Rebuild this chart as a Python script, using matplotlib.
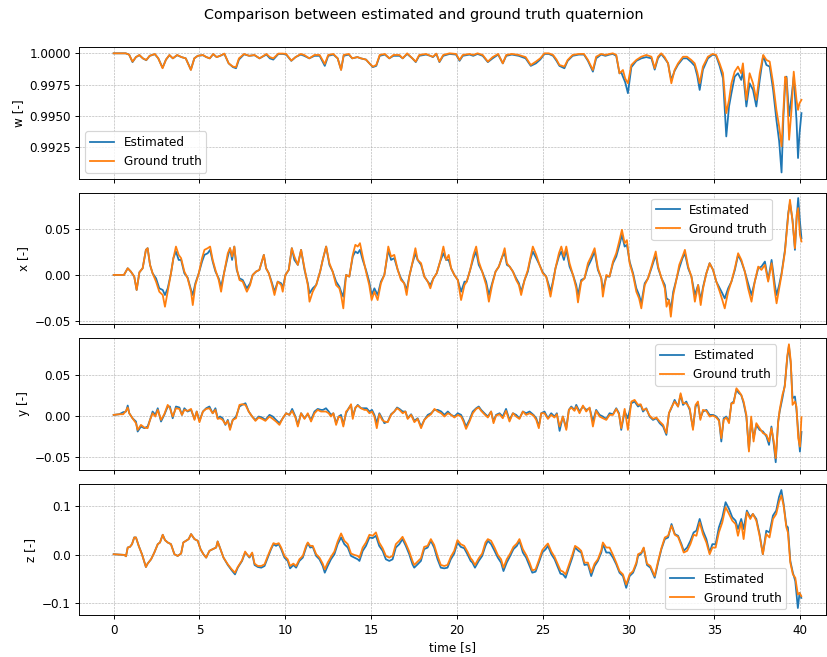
import numpy as np
import matplotlib
matplotlib.use("Agg")
import matplotlib.pyplot as plt
from matplotlib.ticker import FormatStrFormatter

# ---- w component ----
w_t = [0, 0.7, 0.9, 1.1, 1.3, 1.5, 1.7, 1.9, 2.1, 2.4, 2.6, 2.85, 3.05, 3.25, 3.45, 3.7, 3.95, 4.2, 4.5, 4.7,
       4.9, 5.2, 5.4, 5.6, 5.8, 6.0, 6.2, 6.45, 6.7, 6.95, 7.13, 7.3, 7.6, 7.9, 8.2, 8.5, 8.9, 9.1, 9.3, 9.6,
       9.85, 10.05, 10.35, 10.6, 10.9, 11.1, 11.4, 11.7, 12.0, 12.3, 12.5, 12.8, 13.05, 13.25, 13.4, 13.7, 13.9, 14.2, 14.4, 14.7,
       14.9, 15.1, 15.3, 15.5, 15.8, 16.06, 16.3, 16.65, 16.84, 17.1, 17.4, 17.6, 17.8, 18.2, 18.45, 18.6, 18.8, 18.98, 19.2, 19.57,
       19.95, 20.15, 20.34, 20.73, 20.95, 21.2, 21.5, 21.8, 22.08, 22.4, 22.67, 22.87, 23.2, 23.6, 24.0, 24.3, 24.6, 24.85, 25.1, 25.35,
       25.6, 25.8, 25.97, 26.26, 26.45, 26.74, 27.1, 27.4, 27.63, 27.92, 28.11, 28.4, 28.65, 28.89, 29.08, 29.28, 29.47, 29.57, 29.67, 29.8,
       29.96, 30.16, 30.45, 30.74, 31.03, 31.33, 31.52, 31.71, 31.9, 32.1, 32.3, 32.39, 32.49, 32.68, 32.88, 33.17, 33.4, 33.65, 33.85, 34.0,
       34.14, 34.33, 34.62, 34.9, 35.1, 35.3, 35.5, 35.69, 35.85, 35.99, 36.18, 36.37, 36.56, 36.66, 36.86, 37.05, 37.25, 37.44, 37.64, 37.84,
       38.03, 38.22, 38.42, 38.61, 38.77, 38.91, 39.02, 39.12, 39.2, 39.35, 39.49, 39.62, 39.78, 39.87, 39.95, 40.07]
w_gt = [1.0, 1.0, 0.9999, 0.99934, 0.9997, 0.99987, 0.9996, 0.99947, 0.9998, 0.99995, 0.9996, 0.99881, 0.9995, 0.99987, 0.9996, 0.99987, 0.9997, 0.9996, 0.99867, 0.9996,
        0.9998, 0.99987, 0.9997, 0.9996, 0.99995, 0.9997, 0.9998, 0.99998, 0.9992, 0.99894, 0.9989, 0.9996, 0.99995, 0.9998, 0.99987, 0.9996, 0.99995, 0.9997, 0.9996, 0.99998,
        0.99998, 0.99995, 0.99942, 0.9997, 0.99995, 0.99987, 0.9996, 0.99987, 0.99987, 0.99915, 0.99987, 0.99995, 0.9996, 0.99867, 0.99987, 0.99995, 0.9996, 0.9997, 0.9996, 0.9995,
        0.9992, 0.99894, 0.99907, 0.99987, 0.99995, 0.9996, 0.99987, 0.99987, 0.9996, 1.0, 0.9996, 0.99934, 0.99987, 0.99995, 0.9998, 0.99973, 0.99998, 0.99934, 0.99987, 1.0,
        0.99995, 0.99947, 0.99987, 0.99995, 0.99987, 1.0, 0.99987, 0.99934, 0.9997, 0.99995, 0.9992, 0.99987, 0.99995, 0.99987, 0.9997, 0.99907, 0.99934, 0.9996, 1.0, 1.0,
        0.99987, 0.9995, 0.99907, 0.99894, 0.99947, 0.99987, 0.99995, 0.99995, 0.99947, 0.99867, 0.99973, 0.99995, 0.99987, 0.99995, 1.0, 0.99987, 0.99841, 0.99854, 0.99867, 0.9980,
        0.99761, 0.99907, 0.99947, 0.99973, 0.99987, 0.99973, 0.99881, 0.99973, 1.0, 0.9997, 0.9992, 0.99841, 0.99761, 0.99867, 0.9992, 0.99973, 0.99973, 0.99947, 0.9992, 0.9985,
        0.99761, 0.99894, 0.99973, 0.99995, 0.99987, 0.9992, 0.99841, 0.99523, 0.99629, 0.99761, 0.99854, 0.99894, 0.99841, 0.9992, 0.99629, 0.99841, 0.9976, 0.99629, 0.99841, 0.99987,
        0.99947, 0.99934, 0.99761, 0.99549, 0.99417, 0.99258, 0.9955, 0.99814, 0.9980, 0.99311, 0.99549, 0.99854, 0.99629, 0.99549, 0.9960, 0.99629]
w_est = [1.0, 1.0, 0.9999, 0.9993, 0.9997, 0.99985, 0.9996, 0.99945, 0.9998, 0.99993, 0.9996, 0.99885, 0.9995, 0.99985, 0.9996, 0.99985, 0.9997, 0.9996, 0.9987, 0.9996,
         0.9998, 0.99985, 0.9997, 0.9996, 0.99993, 0.9997, 0.9998, 0.99995, 0.9992, 0.9989, 0.99881, 0.9995, 0.99992, 0.9998, 0.99985, 0.9996, 0.9999, 0.9996, 0.9995, 0.99995,
         0.99995, 0.9999, 0.9994, 0.9997, 0.9999, 0.9998, 0.9996, 0.9998, 0.9998, 0.9990, 0.9998, 0.9999, 0.9996, 0.9987, 0.9998, 0.9999, 0.9996, 0.9997, 0.9996, 0.9995,
         0.9992, 0.9989, 0.9990, 0.9998, 0.9999, 0.9996, 0.9998, 0.9998, 0.9996, 0.99995, 0.9996, 0.9993, 0.9998, 0.9999, 0.9998, 0.9997, 0.99995, 0.9993, 0.9998, 0.99995,
         0.9999, 0.9994, 0.9998, 0.9999, 0.9998, 0.99995, 0.9998, 0.9993, 0.9996, 0.9999, 0.9992, 0.9998, 0.9999, 0.9998, 0.9996, 0.9990, 0.9992, 0.9995, 0.99995, 0.99995,
         0.9998, 0.9994, 0.9990, 0.99881, 0.9994, 0.9998, 0.9999, 0.9999, 0.9994, 0.99854, 0.9996, 0.9999, 0.9998, 0.9999, 0.99995, 0.9998, 0.9984, 0.9985, 0.99814, 0.9977,
         0.99682, 0.9989, 0.9994, 0.9996, 0.9997, 0.9996, 0.9987, 0.9996, 0.99995, 0.9996, 0.9992, 0.9985, 0.99788, 0.9986, 0.9991, 0.9996, 0.9996, 0.9993, 0.9990, 0.9982,
         0.99708, 0.9987, 0.9996, 0.9999, 0.9998, 0.9990, 0.9980, 0.99337, 0.99576, 0.99682, 0.99814, 0.99841, 0.99788, 0.9986, 0.99576, 0.99761, 0.99708, 0.99576, 0.99788, 0.9998,
         0.99907, 0.99894, 0.99708, 0.9947, 0.9930, 0.9905, 0.9950, 0.9975, 0.99814, 0.9950, 0.9965, 0.99814, 0.9947, 0.99165, 0.9935, 0.99523]

# ---- x component ----
x_t = [0, 0.6, 0.82, 1.0, 1.2, 1.34, 1.5, 1.69, 1.88, 1.98, 2.12, 2.27, 2.47, 2.66, 2.86, 2.99, 3.15, 3.34, 3.48, 3.63,
       3.79, 3.93, 4.12, 4.31, 4.51, 4.61, 4.76, 4.96, 5.15, 5.29, 5.48, 5.62, 5.77, 5.93, 6.12, 6.26, 6.45, 6.65, 6.78, 6.9,
       7.03, 7.17, 7.33, 7.52, 7.76, 7.95, 8.1, 8.3, 8.49, 8.75, 8.88, 9.04, 9.23, 9.37, 9.56, 9.76, 9.85, 10.01, 10.2, 10.38,
       10.53, 10.73, 10.92, 11.12, 11.31, 11.41, 11.6, 11.8, 12.03, 12.18, 12.38, 12.57, 12.76, 12.96, 13.15, 13.25, 13.38, 13.54, 13.73, 13.93,
       14.08, 14.22, 14.35, 14.51, 14.7, 14.89, 15.03, 15.19, 15.38, 15.57, 15.77, 15.86, 16.0, 16.16, 16.35, 16.55, 16.74, 16.93, 17.07, 17.22,
       17.38, 17.58, 17.71, 17.91, 18.1, 18.3, 18.45, 18.63, 18.82, 19.02, 19.21, 19.37, 19.52, 19.66, 19.85, 20.05, 20.24, 20.44, 20.57, 20.77,
       20.96, 21.12, 21.27, 21.47, 21.7, 21.86, 22.05, 22.25, 22.44, 22.64, 22.78, 22.91, 23.07, 23.26, 23.45, 23.61, 23.74, 23.94, 24.13, 24.27,
       24.42, 24.62, 24.81, 25.0, 25.2, 25.35, 25.45, 25.59, 25.74, 25.94, 26.08, 26.23, 26.37, 26.56, 26.76, 26.95, 27.05, 27.24, 27.43, 27.63,
       27.82, 28.02, 28.21, 28.41, 28.5, 28.7, 28.89, 29.09, 29.28, 29.47, 29.61, 29.77, 29.9, 30.06, 30.26, 30.45, 30.61, 30.74, 30.94, 31.13,
       31.33, 31.58, 31.72, 31.92, 32.11, 32.21, 32.35, 32.46, 32.6, 32.8, 32.95, 33.14, 33.28, 33.47, 33.66, 33.86, 34.05, 34.2, 34.34, 34.53,
       34.72, 34.92, 35.11, 35.31, 35.46, 35.6, 35.8, 35.99, 36.19, 36.38, 36.57, 36.77, 36.96, 37.16, 37.35, 37.55, 37.74, 37.94, 38.13, 38.33,
       38.52, 38.62, 38.77, 38.91, 39.11, 39.3, 39.4, 39.55, 39.69, 39.79, 39.88, 39.98, 40.07]
x_gt = [0, 0, 0.0073, 0.0037, -0.0018, -0.0164, 0.0029, 0.0073, 0.0274, 0.0292, 0.011, 0.0018, -0.0073, -0.0183, -0.0219, -0.0347, -0.0183, 0.0018, 0.0183, 0.031,
        0.0219, 0.0183, 0.0037, -0.0037, -0.0183, -0.0329, -0.011, 0.0018, 0.0183, 0.0274, 0.0292, 0.031, 0.0164, 0.0055, -0.0055, -0.0183, 0.0037, 0.0237, 0.0292, 0.0201,
        0.031, 0.0073, -0.0055, -0.0073, -0.0183, -0.011, 0, 0.0037, 0.0055, 0.0219, 0.0073, 0.0018, -0.011, -0.0219, -0.0073, -0.011, -0.0183, 0, 0.0055, 0.0292,
        0.0201, 0.011, 0.0274, 0.0073, -0.011, -0.0292, -0.0183, -0.011, 0.0037, 0.0164, 0.031, 0.0128, 0.0037, -0.011, -0.0146, -0.0219, -0.0365, 0, -0.0018, 0.0219,
        0.0329, 0.031, 0.0347, 0.0201, 0.0037, -0.011, -0.0274, -0.0183, -0.0274, -0.0091, 0, 0.011, 0.031, 0.0201, 0.0219, 0.0055, -0.0055, -0.0091, -0.0219, -0.0018,
        0.011, 0.0292, 0.0164, 0.0128, -0.0018, -0.0073, -0.0146, -0.0037, 0.0018, 0.0146, 0.031, 0.0164, 0.0219, 0.0073, 0, -0.0055, -0.0274, -0.011, -0.0073, 0.0055,
        0.0219, 0.031, 0.0146, 0.0037, -0.011, -0.0292, -0.011, 0.0037, 0.0091, 0.0201, 0.0292, 0.0128, 0.0091, 0.0037, -0.0055, -0.011, -0.0219, -0.0055, 0.0055, 0.0183,
        0.031, 0.0219, 0.011, 0.0018, -0.0018, -0.0146, -0.0237, -0.0091, 0.0073, 0.0237, 0.031, 0.0201, 0.031, 0.0128, 0, -0.0146, -0.030, -0.0073, -0.0037, 0.0128,
        0.0201, 0.0292, 0.0073, -0.0037, -0.0237, 0, -0.0018, 0.0146, 0.0237, 0.038, 0.0493, 0.0347, 0.038, 0.0128, 0, -0.0183, -0.0256, -0.0365, -0.011, -0.0037,
        0.0091, 0.0256, 0.0091, -0.0037, -0.0146, -0.0347, -0.0274, -0.0456, -0.0219, -0.0037, 0.011, 0.0201, 0.0274, 0.0091, -0.0018, -0.0292, -0.011, -0.0329, -0.0146, 0.0018,
        0.0128, 0.0055, -0.0073, -0.0183, -0.0274, -0.0365, -0.0183, -0.0073, 0.0073, 0.0237, 0.0164, 0.0037, -0.0146, -0.0292, -0.0073, 0.0091, 0.0055, 0.011, -0.0073, 0.0128,
        -0.0183, -0.031, -0.0146, 0, 0.0256, 0.0657, 0.0821, 0.0584, 0.0292, 0.0657, 0.073, 0.0438, 0.0365]
x_est = [0, 0, 0.0073, 0.0037, -0.0018, -0.0164, 0.0029, 0.0073, 0.0274, 0.0292, 0.011, 0.0018, -0.0037, -0.0146, -0.0164, -0.0219, -0.0146, 0.0018, 0.0183, 0.0256,
         0.0164, 0.0164, 0.0018, -0.0029, -0.0164, -0.0219, -0.0091, 0.0018, 0.0146, 0.0219, 0.0237, 0.0274, 0.0146, 0.0037, -0.0037, -0.0128, 0.0037, 0.0201, 0.0292, 0.0164,
         0.031, 0.0055, -0.0037, -0.0055, -0.0146, -0.0091, 0, 0.0037, 0.0055, 0.0219, 0.0073, 0.0018, -0.0091, -0.0183, -0.0073, -0.0091, -0.0146, 0, 0.0055, 0.0292,
         0.0164, 0.011, 0.0274, 0.0055, -0.0091, -0.0201, -0.0146, -0.011, 0.0037, 0.0164, 0.031, 0.011, 0.0037, -0.0073, -0.0128, -0.0183, -0.0237, 0, -0.0018, 0.0201,
         0.0256, 0.0237, 0.0274, 0.0164, 0.0055, -0.0073, -0.0219, -0.0146, -0.0219, -0.0073, 0, 0.011, 0.0274, 0.0164, 0.0183, 0.0055, -0.0037, -0.0091, -0.0164, -0.0018,
         0.011, 0.0237, 0.0164, 0.011, -0.0018, -0.0073, -0.011, -0.0037, 0.0018, 0.0146, 0.0237, 0.0164, 0.0164, 0.0073, 0, -0.0055, -0.0183, -0.0073, -0.0073, 0.0055,
         0.0183, 0.0256, 0.011, 0.0037, -0.0073, -0.0219, -0.0091, 0.0037, 0.0091, 0.0201, 0.0237, 0.011, 0.0091, 0.0037, -0.0037, -0.0091, -0.0183, -0.0055, 0.0037, 0.0164,
         0.0256, 0.0183, 0.011, 0.0029, -0.0018, -0.011, -0.0183, -0.0073, 0.0073, 0.0201, 0.0256, 0.0164, 0.0274, 0.0091, 0, -0.011, -0.022, -0.0055, -0.0037, 0.0091,
         0.0164, 0.0256, 0.0055, -0.0037, -0.0164, -0.0018, -0.0018, 0.0128, 0.0201, 0.0329, 0.0438, 0.031, 0.0329, 0.0146, 0.0018, -0.0146, -0.0219, -0.031, -0.0091, -0.0037,
         0.0073, 0.0219, 0.0073, -0.0037, -0.011, -0.0256, -0.0274, -0.0383, -0.0183, -0.0037, 0.0073, 0.0183, 0.0237, 0.0073, -0.0018, -0.0219, -0.011, -0.0274, -0.0128, 0.0018,
         0.0128, 0.0055, -0.0073, -0.0146, -0.0201, -0.0256, -0.0146, -0.0073, 0.0055, 0.0219, 0.0146, 0.0037, -0.0091, -0.0219, -0.0073, 0.0073, 0.0091, 0.0146, -0.0055, 0.0164,
         -0.011, -0.0219, -0.011, 0.0018, 0.0274, 0.0675, 0.0785, 0.0602, 0.0274, 0.062, 0.084, 0.0584, 0.040]

# ---- y component ----
y_t = [0, 0.33, 0.56, 0.72, 0.82, 0.91, 1.1, 1.3, 1.4, 1.59, 1.79, 1.98, 2.12, 2.27, 2.43, 2.57, 2.76, 2.95, 3.15, 3.28,
       3.44, 3.63, 3.83, 3.98, 4.12, 4.31, 4.51, 4.71, 4.84, 5.0, 5.2, 5.39, 5.58, 5.77, 5.93, 6.06, 6.2, 6.35, 6.51, 6.65,
       6.78, 6.94, 7.13, 7.33, 7.48, 7.68, 7.87, 8.07, 8.26, 8.45, 8.65, 8.84, 9.08, 9.27, 9.46, 9.66, 9.85, 10.05, 10.24, 10.4,
       10.59, 10.73, 10.92, 11.12, 11.31, 11.5, 11.7, 11.89, 12.08, 12.2, 12.37, 12.53, 12.66, 12.8, 12.96, 13.11, 13.25, 13.38, 13.54, 13.69,
       13.83, 13.93, 14.08, 14.22, 14.41, 14.61, 14.74, 14.9, 15.05, 15.19, 15.33, 15.48, 15.64, 15.77, 15.97, 16.16, 16.35, 16.51, 16.65, 16.84,
       17.0, 17.13, 17.33, 17.52, 17.71, 17.91, 18.1, 18.3, 18.49, 18.69, 18.88, 19.08, 19.27, 19.47, 19.66, 19.85, 20.05, 20.24, 20.38, 20.53,
       20.73, 20.92, 21.12, 21.27, 21.41, 21.6, 21.8, 21.99, 22.13, 22.28, 22.48, 22.67, 22.86, 23.06, 23.26, 23.45, 23.64, 23.84, 24.03, 24.23,
       24.46, 24.62, 24.77, 24.91, 25.1, 25.3, 25.49, 25.68, 25.82, 25.98, 26.17, 26.37, 26.52, 26.66, 26.85, 26.95, 27.14, 27.34, 27.53, 27.73,
       27.92, 28.11, 28.31, 28.5, 28.7, 28.89, 29.09, 29.28, 29.44, 29.57, 29.77, 29.96, 30.16, 30.35, 30.55, 30.7, 30.84, 31.03, 31.22, 31.42,
       31.62, 31.81, 32.01, 32.2, 32.35, 32.49, 32.68, 32.88, 33.03, 33.17, 33.36, 33.56, 33.75, 33.9, 34.04, 34.18, 34.33, 34.53, 34.72, 34.92,
       35.11, 35.27, 35.4, 35.54, 35.69, 35.85, 35.99, 36.12, 36.28, 36.43, 36.56, 36.7, 36.86, 37.01, 37.14, 37.28, 37.44, 37.63, 37.83, 38.03,
       38.18, 38.32, 38.46, 38.57, 38.71, 38.8, 38.96, 39.1, 39.24, 39.34, 39.45, 39.55, 39.69, 39.78, 39.88, 39.98, 40.07]
y_gt = [0.0008, 0.0016, 0.0016, 0.0057, 0.0098, 0.0028, -0.0033, -0.0093, -0.0175, -0.0114, -0.0146, -0.0154, -0.0053, 0.0028, -0.0012, 0.0069, -0.0053, 0.0016, 0.013, 0.0089,
        -0.0012, 0.0089, 0.0081, 0.0008, 0.0069, 0.0057, 0.0081, -0.0053, 0.0049, -0.0081, 0.0049, 0.0081, 0.0089, 0.0028, 0.0069, -0.0041, -0.0033, -0.0053, -0.0106, -0.0065,
        -0.0175, -0.0053, -0.0033, 0.013, 0.0138, 0.013, 0.0049, -0.0012, -0.0065, -0.0024, -0.0041, -0.0065, -0.0012, -0.0041, -0.0073, -0.0114, -0.0033, 0.0028, 0.0008, 0.0057,
        -0.0024, -0.0134, 0.0028, -0.0041, 0.0028, -0.0073, 0.0028, 0.0069, 0.0049, 0.0049, 0.0049, 0.0028, -0.0012, 0.0028, -0.0114, -0.0012, -0.0024, -0.0134, 0.0049, 0.0081,
        0.0138, -0.0041, 0.0098, 0.0122, 0.0089, 0.0069, 0.0069, 0.0028, 0.0049, -0.0012, -0.0154, 0.0016, -0.0053, -0.0073, -0.0081, 0.0008, 0.0049, 0.0089, 0.0069, 0.0028,
        0.0049, -0.0041, 0.0008, -0.0081, -0.0041, -0.0154, -0.0053, -0.0012, 0.0016, 0.0081, 0.0049, 0.0028, -0.0012, 0.0028, 0.0008, -0.0024, 0.0008, -0.0012, -0.0073, -0.0163,
        -0.0073, 0.0028, 0.0081, 0.0098, 0.0057, 0.0016, -0.0024, 0.0049, -0.0093, 0.0, 0.0016, -0.0033, 0.0057, -0.0073, 0.0028, -0.0012, -0.0041, 0.0049, 0.0008, 0.0028,
        0.0, -0.0053, -0.0154, 0.0028, 0.0028, -0.0041, 0.0008, -0.0024, 0.0016, -0.0134, -0.0012, -0.0175, 0.0069, 0.0098, 0.0057, 0.011, 0.0028, 0.0122, 0.0049, 0.0098,
        -0.0134, 0.0057, -0.0012, -0.0033, -0.0053, 0.0008, 0.0008, 0.0081, 0.0016, -0.0154, 0.0081, -0.0175, 0.0171, 0.0191, 0.013, 0.0138, 0.0069, 0.0081, 0.0, -0.0041,
        -0.0024, -0.0073, -0.0114, -0.0215, 0.0028, 0.0098, 0.0171, 0.011, 0.0272, 0.015, 0.015, 0.0089, -0.0175, 0.013, 0.0171, -0.0053, 0.0069, 0.0057, -0.0012, 0.0,
        -0.0024, -0.0065, -0.0276, -0.0053, -0.0024, -0.0093, 0.015, 0.015, 0.0333, 0.0293, 0.0252, 0.0171, 0.0008, -0.0439, -0.0012, -0.0317, -0.0093, -0.0154, -0.0215, -0.0236,
        -0.0317, -0.0154, -0.0317, -0.052, -0.0093, 0.0069, 0.0252, 0.0354, 0.072, 0.087, 0.0659, 0.013, 0.0171, 0.011, -0.0276, -0.038, -0.002]
y_est = [0.0008, 0.0016, 0.0041, 0.0049, 0.0122, 0.0028, -0.0033, -0.0073, -0.0195, -0.0134, -0.0154, -0.0134, -0.0053, 0.0049, 0.0008, 0.0089, -0.0073, 0.0008, 0.011, 0.011,
         -0.0033, 0.011, 0.0098, 0.0008, 0.0089, 0.0049, 0.0069, -0.0041, 0.0049, -0.0065, 0.0049, 0.0089, 0.011, 0.0028, 0.0089, -0.0033, -0.0012, -0.0033, -0.0114, -0.0053,
         -0.0154, -0.0053, -0.0012, 0.011, 0.013, 0.015, 0.0049, -0.0012, -0.0053, -0.0012, -0.0024, -0.0053, 0.0008, -0.0012, -0.0053, -0.0093, -0.0033, 0.0028, 0.0008, 0.0081,
         -0.0012, -0.0114, 0.0028, -0.0033, 0.0016, -0.0053, 0.0049, 0.0081, 0.0069, 0.0069, 0.0089, 0.0049, 0.0008, 0.0028, -0.0093, -0.0012, 0.0008, -0.0114, 0.0028, 0.0089,
         0.013, -0.0012, 0.0089, 0.013, 0.0089, 0.0089, 0.0089, 0.0049, 0.0069, 0.0008, -0.0093, 0.0028, -0.0033, -0.0093, -0.0073, 0.0016, 0.0049, 0.0098, 0.0081, 0.0049,
         0.0049, -0.0033, 0.0016, -0.0065, -0.0033, -0.0134, -0.0053, 0.0008, 0.0028, 0.0069, 0.0069, 0.0049, 0.0008, 0.0049, 0.0008, -0.0012, 0.0028, 0.0008, -0.0053, -0.0134,
         -0.0053, 0.0049, 0.0089, 0.011, 0.0069, 0.0028, -0.0012, 0.0049, -0.0073, 0.0008, 0.0028, -0.0012, 0.0081, -0.0053, 0.0028, 0.0008, -0.0033, 0.0049, 0.0028, 0.0049,
         0.0008, -0.0033, -0.0134, 0.0028, 0.0049, -0.0033, 0.0028, -0.0012, 0.0028, -0.0187, -0.0012, -0.0154, 0.0069, 0.011, 0.0069, 0.013, 0.0049, 0.011, 0.0069, 0.0089,
         -0.0073, 0.0069, 0.0008, -0.0012, -0.0041, 0.0028, 0.0016, 0.0089, 0.0028, -0.0175, 0.0049, -0.0033, 0.015, 0.0171, 0.011, 0.013, 0.0049, 0.0089, -0.0012, -0.0053,
         -0.0033, -0.0093, -0.0134, -0.0236, 0.0028, 0.0089, 0.0191, 0.011, 0.0252, 0.013, 0.0171, 0.0069, -0.0154, 0.011, 0.015, -0.0033, 0.0049, 0.0069, 0.0008, 0.0008,
         -0.0012, -0.0053, -0.0317, -0.0033, -0.0012, -0.0073, 0.015, 0.0171, 0.0313, 0.0272, 0.0252, 0.015, -0.0012, -0.0419, -0.0053, -0.0276, -0.0114, -0.0175, -0.0195, -0.0256,
         -0.0358, -0.0134, -0.0358, -0.057, -0.0073, 0.0049, 0.0211, 0.0374, 0.0699, 0.085, 0.0618, 0.0211, 0.0232, 0.0069, -0.0195, -0.044, -0.02]

# ---- z component ----
z_t = [0, 0.62, 0.72, 0.82, 0.95, 1.07, 1.2, 1.3, 1.46, 1.65, 1.88, 1.98, 2.18, 2.37, 2.57, 2.7, 2.86, 2.99, 3.15, 3.34,
       3.54, 3.73, 3.93, 4.06, 4.22, 4.37, 4.51, 4.71, 4.9, 5.06, 5.23, 5.39, 5.58, 5.77, 5.97, 6.06, 6.22, 6.4, 6.65, 6.88,
       7.07, 7.23, 7.48, 7.66, 7.76, 7.91, 8.07, 8.21, 8.4, 8.6, 8.79, 8.98, 9.17, 9.31, 9.46, 9.62, 9.76, 9.95, 10.14, 10.28,
       10.47, 10.63, 10.82, 11.02, 11.21, 11.31, 11.45, 11.6, 11.8, 11.99, 12.18, 12.3, 12.47, 12.66, 12.86, 13.05, 13.25, 13.44, 13.64, 13.83,
       14.02, 14.22, 14.32, 14.51, 14.7, 14.9, 15.09, 15.28, 15.47, 15.67, 15.86, 16.06, 16.25, 16.44, 16.64, 16.83, 17.02, 17.22, 17.41, 17.51,
       17.71, 17.9, 18.09, 18.29, 18.48, 18.67, 18.87, 19.06, 19.26, 19.45, 19.64, 19.84, 20.03, 20.22, 20.42, 20.61, 20.8, 20.9, 21.05, 21.27,
       21.47, 21.66, 21.8, 21.99, 22.19, 22.38, 22.57, 22.71, 22.9, 23.1, 23.29, 23.49, 23.64, 23.84, 24.03, 24.23, 24.39, 24.58, 24.77, 24.97,
       25.17, 25.3, 25.5, 25.69, 25.89, 26.03, 26.18, 26.33, 26.52, 26.72, 26.88, 27.08, 27.24, 27.43, 27.63, 27.82, 28.02, 28.21, 28.41, 28.5,
       28.7, 28.89, 29.09, 29.28, 29.47, 29.67, 29.86, 30.06, 30.26, 30.45, 30.55, 30.74, 30.88, 31.07, 31.27, 31.52, 31.72, 31.91, 32.11, 32.3,
       32.5, 32.69, 32.88, 33.08, 33.21, 33.41, 33.6, 33.79, 33.95, 34.14, 34.33, 34.53, 34.72, 34.88, 35.07, 35.26, 35.46, 35.65, 35.85, 36.04,
       36.23, 36.37, 36.56, 36.7, 36.89, 37.09, 37.24, 37.44, 37.63, 37.82, 38.02, 38.21, 38.41, 38.6, 38.76, 38.9, 39.03, 39.19, 39.28, 39.42,
       39.57, 39.71, 39.86, 39.96, 40.06]
z_gt = [0.0007, -0.0007, -0.0035, 0.0146, 0.016, 0.0216, 0.0355, 0.0355, 0.0181, 0.0007, -0.0258, -0.0188, -0.0098, 0.0042, 0.0216, 0.0251, 0.0411, 0.03, 0.0251, 0.0216,
        0.0007, -0.0028, 0.0021, 0.0251, 0.0286, 0.0321, 0.0425, 0.0321, 0.0286, 0.0112, 0.0007, -0.0063, 0.0077, 0.0112, 0.0146, 0.0272, 0.0112, -0.0063, -0.0202, -0.0307,
        -0.0376, -0.0258, -0.0118, 0.0063, 0.0007, -0.0049, 0.0042, -0.0188, -0.0237, -0.0237, -0.0202, -0.0028, 0.0132, 0.0237, 0.0216, 0.0237, 0.0146, -0.0028, -0.0098, -0.0237,
        -0.0188, -0.0237, -0.0098, -0.0028, 0.0181, 0.0251, 0.0181, 0.0181, 0.0007, -0.0063, -0.0188, -0.0307, -0.0167, -0.0049, 0.0063, 0.0272, 0.0439, 0.0286, 0.0216, 0.0021,
        -0.0007, -0.0028, -0.0063, 0.0146, 0.0251, 0.0411, 0.039, 0.046, 0.0251, 0.0132, -0.0028, -0.0063, -0.0028, 0.0216, 0.0286, 0.0369, 0.023, 0.0063, -0.0132, -0.0216,
        -0.0146, -0.0077, 0.016, 0.0181, 0.0321, 0.0202, -0.0028, -0.0216, -0.0237, -0.0216, -0.0049, 0.0077, 0.03, 0.0216, 0.0181, 0.0063, -0.0077, -0.0118, -0.0216, -0.0077,
        0.0021, 0.0251, 0.0321, 0.0286, 0.0146, -0.0007, -0.0098, -0.0272, -0.0098, 0.0021, 0.016, 0.023, 0.0321, 0.0112, -0.0007, -0.0167, -0.0328, -0.0307, -0.0118, 0.0091,
        0.0181, 0.023, 0.0063, -0.0049, -0.0216, -0.0328, -0.0355, -0.0411, -0.0216, -0.0007, 0.0181, 0.0132, 0.0077, -0.0167, -0.0167, -0.0376, -0.0188, -0.0098, 0.0091, 0.0251,
        0.0146, 0.0146, -0.0007, -0.0167, -0.0342, -0.0411, -0.062, -0.0411, -0.0342, -0.0167, 0.0007, 0.0042, 0.0146, -0.0188, -0.0237, -0.0446, -0.0132, 0.0132, 0.0355, 0.039,
        0.0599, 0.0411, 0.0369, 0.0181, 0.0042, 0.0077, 0.0216, 0.0411, 0.039, 0.0669, 0.0425, 0.0251, 0.0007, 0.0146, 0.0146, 0.046, 0.0669, 0.0983, 0.0843, 0.0704,
        0.0634, 0.039, 0.0669, 0.0321, 0.0878, 0.0739, 0.0843, 0.0704, 0.039, 0.0007, 0.0425, 0.0355, 0.0739, 0.0843, 0.1087, 0.1227, 0.1018, 0.0565, 0.046, -0.0167,
        -0.0411, -0.0481, -0.0829, -0.0795, -0.0864]
z_est = [0.0007, -0.0007, -0.0035, 0.0146, 0.016, 0.0216, 0.0355, 0.0355, 0.0181, 0.0007, -0.0258, -0.0188, -0.0098, 0.0042, 0.0216, 0.0251, 0.0411, 0.03, 0.0251, 0.0216,
         0.0007, -0.0028, 0.0021, 0.0251, 0.0286, 0.0321, 0.0425, 0.0321, 0.0286, 0.0112, 0.0007, -0.0063, 0.0077, 0.0112, 0.0146, 0.0272, 0.0112, -0.0063, -0.0216, -0.0328,
         -0.0411, -0.0272, -0.0132, 0.0042, 0.0007, -0.0063, 0.0021, -0.0216, -0.0258, -0.0272, -0.0237, -0.0063, 0.0112, 0.0216, 0.0181, 0.0216, 0.0112, -0.0063, -0.0132, -0.0286,
         -0.0216, -0.0272, -0.0132, -0.0063, 0.0146, 0.0237, 0.0146, 0.016, -0.0028, -0.0098, -0.0237, -0.0376, -0.0237, -0.0098, 0.0007, 0.0216, 0.0355, 0.0216, 0.0146, -0.0028,
         -0.0063, -0.0098, -0.0132, 0.0077, 0.0181, 0.0355, 0.0342, 0.039, 0.0181, 0.0077, -0.0098, -0.0132, -0.0098, 0.0146, 0.0216, 0.0321, 0.0181, 0.0007, -0.0202, -0.0272,
         -0.0202, -0.0132, 0.0112, 0.0146, 0.0286, 0.0146, -0.0098, -0.0272, -0.0286, -0.0272, -0.0098, 0.0021, 0.0251, 0.016, 0.0132, 0.0007, -0.0132, -0.0167, -0.0272, -0.0132,
         -0.0028, 0.0181, 0.0286, 0.0216, 0.0077, -0.0063, -0.0167, -0.0342, -0.0167, -0.0028, 0.0112, 0.0181, 0.0286, 0.0042, -0.0063, -0.0237, -0.0376, -0.0355, -0.0167, 0.0042,
         0.0112, 0.0181, 0.0007, -0.0098, -0.0272, -0.0397, -0.0411, -0.0481, -0.0272, -0.0063, 0.0146, 0.0077, 0.0042, -0.0216, -0.0202, -0.0446, -0.0237, -0.0132, 0.0042, 0.0216,
         0.0042, 0.0042, -0.0063, -0.0202, -0.0376, -0.0446, -0.069, -0.0446, -0.0376, -0.0202, -0.0028, 0.0021, 0.0132, -0.0216, -0.0272, -0.0481, -0.0167, 0.0112, 0.0321, 0.0355,
         0.0634, 0.0425, 0.039, 0.0216, 0.0077, 0.0146, 0.0286, 0.046, 0.0495, 0.0739, 0.0495, 0.0321, 0.0042, 0.0216, 0.0216, 0.0565, 0.0774, 0.1087, 0.0948, 0.0774,
         0.0704, 0.053, 0.0739, 0.053, 0.0913, 0.0774, 0.0843, 0.0739, 0.0425, 0.0007, 0.0495, 0.046, 0.0809, 0.0913, 0.1192, 0.134, 0.1052, 0.0599, 0.0565, -0.0132,
         -0.0376, -0.0551, -0.111, -0.0795, -0.0899]

labels = ["w [-]", "x [-]", "y [-]", "z [-]"]
series = [(w_t, w_est, w_gt), (x_t, x_est, x_gt), (y_t, y_est, y_gt), (z_t, z_est, z_gt)]
ylims = [(0.98999, 1.00048), (-0.0539, 0.0897), (-0.0662, 0.0943), (-0.126, 0.147)]
yticks = [[0.9925, 0.995, 0.9975, 1.0], [-0.05, 0.0, 0.05], [-0.05, 0.0, 0.05], [-0.1, 0.0, 0.1]]
legend_pos = [("lower left", None), ("upper right", (0.9355, 1.0)),
              ("upper right", (0.941, 1.0)), ("lower right", (0.9545, 0.0))]

dpi = 86
fig, axes = plt.subplots(4, 1, sharex=True, figsize=(827 / dpi, 657 / dpi), dpi=dpi)
fig.subplots_adjust(left=0.0959, right=0.9988, top=0.928, bottom=0.0635, hspace=0.106)

for ax, (t, est, gt), lab, yl, yt, (loc, anchor) in zip(axes, series, labels, ylims, yticks, legend_pos):
    ax.plot(t, est, color="tab:blue", label="Estimated")
    ax.plot(t, gt, color="tab:orange", label="Ground truth")
    ax.set_ylabel(lab)
    ax.set_ylim(*yl)
    ax.set_yticks(yt)
    ax.grid(True, linestyle="--", linewidth=0.5, color="#b0b0b0")
    if anchor is None:
        ax.legend(loc=loc)
    else:
        ax.legend(loc=loc, bbox_to_anchor=anchor)

axes[0].yaxis.set_major_formatter(FormatStrFormatter("%.4f"))
axes[3].set_xlim(-2.0, 41.5)
axes[3].set_xticks(np.arange(0, 41, 5))
axes[3].set_xlabel("time [s]")
fig.suptitle("Comparison between estimated and ground truth quaternion", x=0.513, y=0.988)

fig.savefig("out.png", dpi=dpi)
